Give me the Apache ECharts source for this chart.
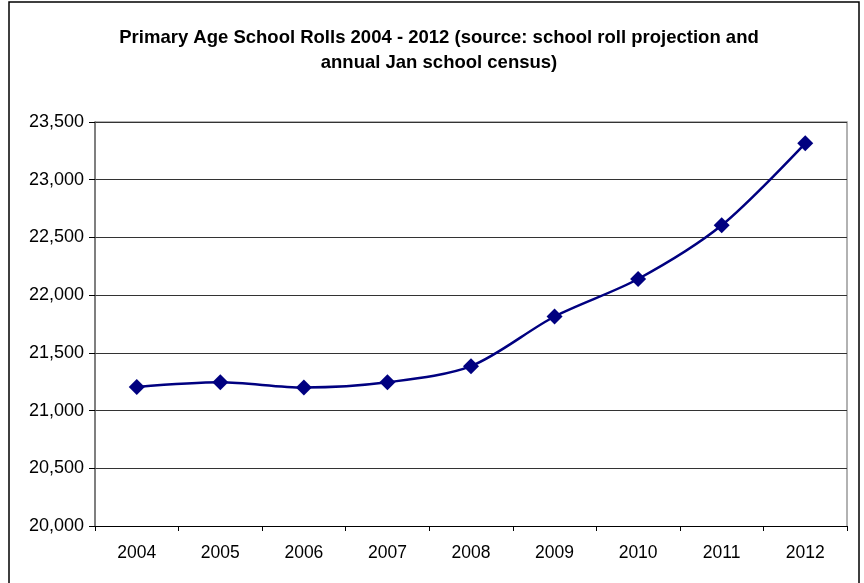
<!DOCTYPE html>
<html><head><meta charset="utf-8">
<script src="https://cdn.jsdelivr.net/npm/echarts@6/dist/echarts.min.js"></script>
<style>html,body{margin:0;padding:0;background:#fff}#c{width:864px;height:583px}</style>
</head><body><div id="c"></div>
<script>
var years = ['2004','2005','2006','2007','2008','2009','2010','2011','2012'];
var rolls = [21205, 21245, 21200, 21245, 21385, 21815, 22140, 22605, 23315];
var chart = echarts.init(document.getElementById('c'));
chart.setOption({
  animation: false,
  backgroundColor: '#fff',
  title: {
    text: 'Primary Age School Rolls 2004 - 2012 (source: school roll projection and\nannual Jan school census)',
    left: 434, top: 20, textAlign: 'center',
    textStyle: {fontFamily: 'Liberation Sans', fontSize: 18.5, fontWeight: 'bold', color: '#000', lineHeight: 25}
  },
  grid: {left: 95, right: 17, top: 122, bottom: 57},
  xAxis: {
    type: 'category', data: years, boundaryGap: true,
    axisLine: {lineStyle: {color: '#000', width: 1}},
    axisTick: {show: true, length: 5, lineStyle: {color: '#000'}},
    axisLabel: {fontFamily: 'Liberation Sans', fontSize: 17.5, color: '#000', margin: 18},
    splitLine: {show: false}
  },
  yAxis: {
    type: 'value', min: 20000, max: 23500, interval: 500,
    axisLine: {show: true, lineStyle: {color: '#555', width: 1.5}},
    axisTick: {show: true, length: 6, inside: false, lineStyle: {color: '#000'}},
    axisLabel: {fontFamily: 'Liberation Sans', fontSize: 18, color: '#000', margin: 11,
      formatter: function (v) { return v.toLocaleString('en-US'); }},
    splitLine: {show: true, lineStyle: {color: '#333', width: 1}}
  },
  series: [{
    type: 'line', data: rolls, smooth: 0.3,
    symbol: 'diamond', symbolSize: 16,
    lineStyle: {color: '#000080', width: 2.5},
    itemStyle: {color: '#000080'}
  }],
  graphic: [
    {type: 'rect', shape: {x: 9, y: 2, width: 850, height: 590}, style: {fill: 'none', stroke: '#000', lineWidth: 1.5}, silent: true},
    {type: 'polyline', shape: {points: [[95, 122], [847, 122], [847, 526]]}, style: {stroke: '#999', lineWidth: 1.5, fill: 'none'}, silent: true, z: -1}
  ]
});
</script></body></html>
